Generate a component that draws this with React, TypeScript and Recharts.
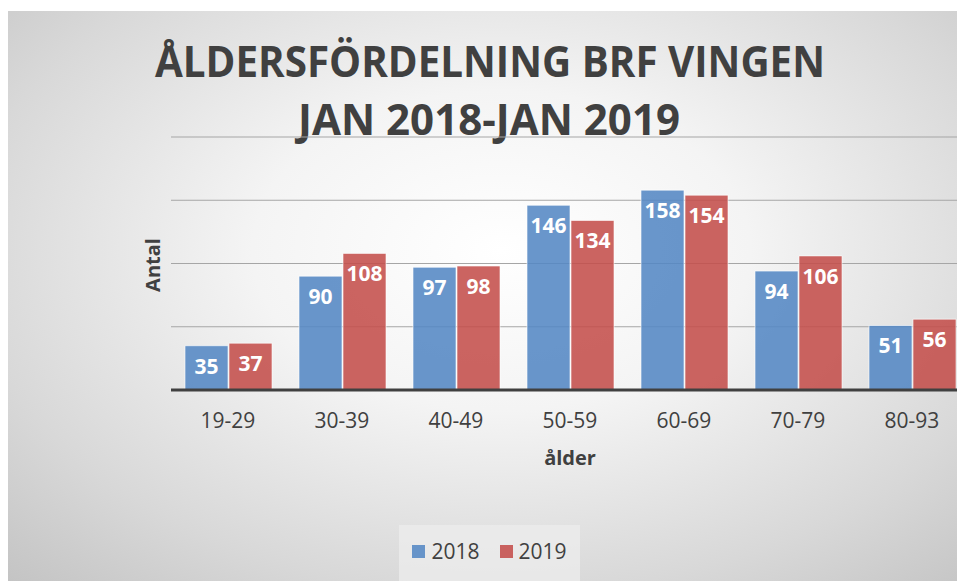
import { Bar, BarChart, CartesianGrid, LabelList, XAxis, YAxis } from "recharts"

const ageGroups = ["19-29", "30-39", "40-49", "50-59", "60-69", "70-79", "80-93"]
const counts2018 = [35, 90, 97, 146, 158, 94, 51]
const counts2019 = [37, 108, 98, 134, 154, 106, 56]
const yTicks = [0, 50, 100, 150, 200]

const data = ageGroups.map((group, i) => ({ group, y2018: counts2018[i], y2019: counts2019[i] }))

const FONT = "'Open Sans', sans-serif"
const TEXT = "#404040"

function LegendBox() {
  return (
    <div
      style={{
        position: "absolute",
        left: 391,
        top: 514,
        width: 181,
        height: 56,
        background: "rgba(238,238,238,0.7)",
        display: "flex",
        alignItems: "center",
        justifyContent: "center",
        gap: 20,
        fontFamily: FONT,
        fontSize: 21,
        color: TEXT,
        paddingBottom: 4,
        boxSizing: "border-box",
      }}
    >
      <span style={{ display: "flex", alignItems: "center", gap: 6 }}>
        <span style={{ width: 13, height: 13, background: "#6794c9", display: "inline-block" }} />
        2018
      </span>
      <span style={{ display: "flex", alignItems: "center", gap: 6 }}>
        <span style={{ width: 13, height: 13, background: "#c9615f", display: "inline-block" }} />
        2019
      </span>
    </div>
  )
}

export default function App() {
  return (
    <>
      <style>{"body{margin:0;overflow:hidden}"}</style>
      <div
        style={{
          position: "absolute",
          left: 8,
          top: 11,
          width: 949,
          height: 570,
          overflow: "hidden",
          background: "radial-gradient(ellipse 75% 80% at 52% 42%, #ffffff 0%, #f4f4f4 35%, #d8d8d8 75%, #c4c4c4 100%)",
        }}
      >
        <svg width={949} height={140} style={{ position: "absolute", left: 0, top: 0 }}>
          <text x={147} y={66} textLength={670} lengthAdjust="spacingAndGlyphs" fontFamily={FONT} fontWeight={700} fontSize={43} fill={TEXT}>
            ÅLDERSFÖRDELNING BRF VINGEN
          </text>
          <text x={290} y={124} textLength={382} lengthAdjust="spacingAndGlyphs" fontFamily={FONT} fontWeight={700} fontSize={43} fill={TEXT}>
            JAN 2018-JAN 2019
          </text>
        </svg>
        <div
          style={{
            position: "absolute",
            left: 144,
            top: 254,
            transform: "translate(-50%,-50%) rotate(-90deg)",
            fontFamily: FONT,
            fontWeight: 700,
            fontSize: 20,
            color: TEXT,
          }}
        >
          Antal
        </div>
        <BarChart
          width={970}
          height={570}
          data={data}
          margin={{ top: 126, right: 9, bottom: 112, left: 163 }}
          barCategoryGap={14}
          barGap={1}
          style={{ position: "absolute", left: 0, top: 0 }}
        >
          <CartesianGrid vertical={false} stroke="#a6a6a6" strokeWidth={1.2} />
          <YAxis hide domain={[0, 200]} ticks={yTicks} />
          <XAxis
            dataKey="group"
            height={79}
            tickLine={false}
            axisLine={{ stroke: "#404040", strokeWidth: 3 }}
            tick={{ fontFamily: FONT, fontSize: 21, fill: TEXT }}
            tickMargin={17}
            label={{ value: "ålder", position: "insideBottom", offset: 4, fontFamily: FONT, fontWeight: 700, fontSize: 20, fill: TEXT }}
          />
          <Bar dataKey="y2018" fill="#5487c4" fillOpacity={0.88} stroke="rgba(255,255,255,0.6)" strokeWidth={1} isAnimationActive={false}>
            <LabelList dataKey="y2018" position="insideTop" offset={13} fill="#ffffff" fontFamily={FONT} fontWeight={700} fontSize={21} />
          </Bar>
          <Bar dataKey="y2019" fill="#c44e4b" fillOpacity={0.88} stroke="rgba(255,255,255,0.6)" strokeWidth={1} isAnimationActive={false}>
            <LabelList dataKey="y2019" position="insideTop" offset={13} fill="#ffffff" fontFamily={FONT} fontWeight={700} fontSize={21} />
          </Bar>
        </BarChart>
        <LegendBox />
      </div>
    </>
  )
}
